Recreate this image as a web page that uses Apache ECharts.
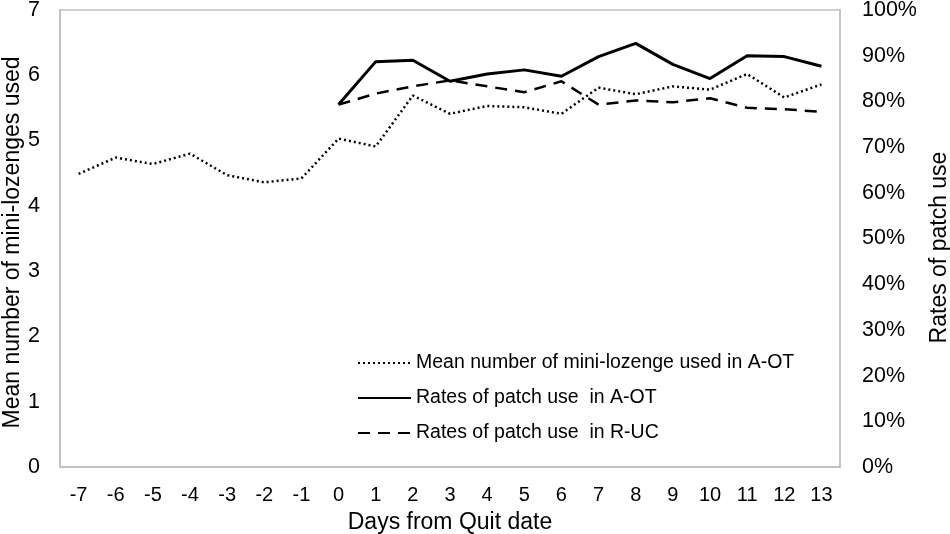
<!DOCTYPE html>
<html>
<head>
<meta charset="utf-8">
<script src="https://cdn.jsdelivr.net/npm/echarts@6/dist/echarts.min.js"></script>
<style>
  html, body { margin: 0; padding: 0; background: #fff; }
  #chart { width: 950px; height: 534px; }
</style>
</head>
<body>
<div id="chart"></div>
<script>
const days = ['-7', '-6', '-5', '-4', '-3', '-2', '-1', '0', '1', '2', '3', '4', '5', '6', '7', '8', '9', '10', '11', '12', '13'];

// mean number of mini-lozenges (left axis)
const lozengeAOT = [4.49, 4.74, 4.64, 4.80, 4.47, 4.36, 4.42, 5.03, 4.91, 5.69, 5.41, 5.53, 5.51, 5.41, 5.81, 5.71, 5.83, 5.78, 6.02, 5.66, 5.86];

// rates of patch use in % (right axis), only from day 0
const patchAOT = [null, null, null, null, null, null, null, 79.3, 88.7, 89.0, 84.4, 86.0, 86.9, 85.5, 89.8, 92.7, 88.1, 85.0, 90.0, 89.8, 87.7];
const patchRUC = [null, null, null, null, null, null, null, 79.3, 81.7, 83.3, 84.6, 83.3, 82.0, 84.4, 79.3, 80.2, 79.8, 80.7, 78.6, 78.3, 77.7];

const seriesNames = [
  'Mean number of mini-lozenge used in A-OT',
  'Rates of patch use  in A-OT',
  'Rates of patch use  in R-UC'
];

const font = '"Liberation Sans", Arial, sans-serif';
const gray = '#bfbfbf';

const chart = echarts.init(document.getElementById('chart'));

chart.setOption({
  animation: false,
  textStyle: { fontFamily: font, color: '#000' },
  grid: {
    left: 60, right: 110, top: 10, bottom: 67,
    containLabel: false, outerBoundsMode: 'none',
    show: true, borderColor: gray, borderWidth: 1.5
  },
  legend: {
    orient: 'vertical',
    left: 352,
    top: 348,
    itemWidth: 53,
    itemHeight: 14,
    itemGap: 15,
    itemStyle: { opacity: 0 },
    textStyle: { fontSize: 19.5, color: '#000', fontFamily: font },
    data: seriesNames
  },
  xAxis: {
    type: 'category',
    data: days,
    boundaryGap: true,
    name: 'Days from Quit date',
    nameLocation: 'middle',
    nameGap: 44,
    nameTextStyle: { fontSize: 23, color: '#000' },
    axisLine: { lineStyle: { color: gray, width: 1.5 } },
    axisTick: { show: false },
    axisLabel: { fontSize: 20, color: '#000', margin: 18 }
  },
  yAxis: [
    {
      type: 'value',
      min: 0,
      max: 7,
      interval: 1,
      name: 'Mean number of mini-lozenges used',
      nameLocation: 'middle',
      nameRotate: 90,
      nameGap: 36,
      nameMoveOverlap: false,
      nameTextStyle: { fontSize: 23, color: '#000', padding: [0, 8, 0, 0] },
      axisLine: { show: true, lineStyle: { color: gray, width: 1.5 } },
      axisTick: { show: false },
      splitLine: { show: false },
      axisLabel: { fontSize: 21.5, color: '#000', margin: 20 }
    },
    {
      type: 'value',
      min: 0,
      max: 100,
      interval: 10,
      position: 'right',
      name: 'Rates of patch use',
      nameLocation: 'middle',
      nameRotate: 90,
      nameGap: 83,
      nameTextStyle: { fontSize: 23, color: '#000', padding: [0, 18, 0, 0] },
      axisLine: { show: true, lineStyle: { color: gray, width: 1.5 } },
      axisTick: { show: false },
      splitLine: { show: false },
      axisLabel: { fontSize: 21.5, color: '#000', margin: 22, formatter: '{value}%' }
    }
  ],
  series: [
    {
      name: seriesNames[0],
      type: 'line',
      yAxisIndex: 0,
      data: lozengeAOT,
      symbol: 'none',
      lineStyle: { color: '#000', width: 2.5, type: [2, 3] },
      itemStyle: { color: '#000' }
    },
    {
      name: seriesNames[1],
      type: 'line',
      yAxisIndex: 1,
      data: patchAOT,
      symbol: 'none',
      lineStyle: { color: '#000', width: 3, type: 'solid' },
      itemStyle: { color: '#000' }
    },
    {
      name: seriesNames[2],
      type: 'line',
      yAxisIndex: 1,
      data: patchRUC,
      symbol: 'none',
      lineStyle: { color: '#000', width: 2.5, type: [12, 8] },
      itemStyle: { color: '#000' }
    }
  ]
});
</script>
</body>
</html>
